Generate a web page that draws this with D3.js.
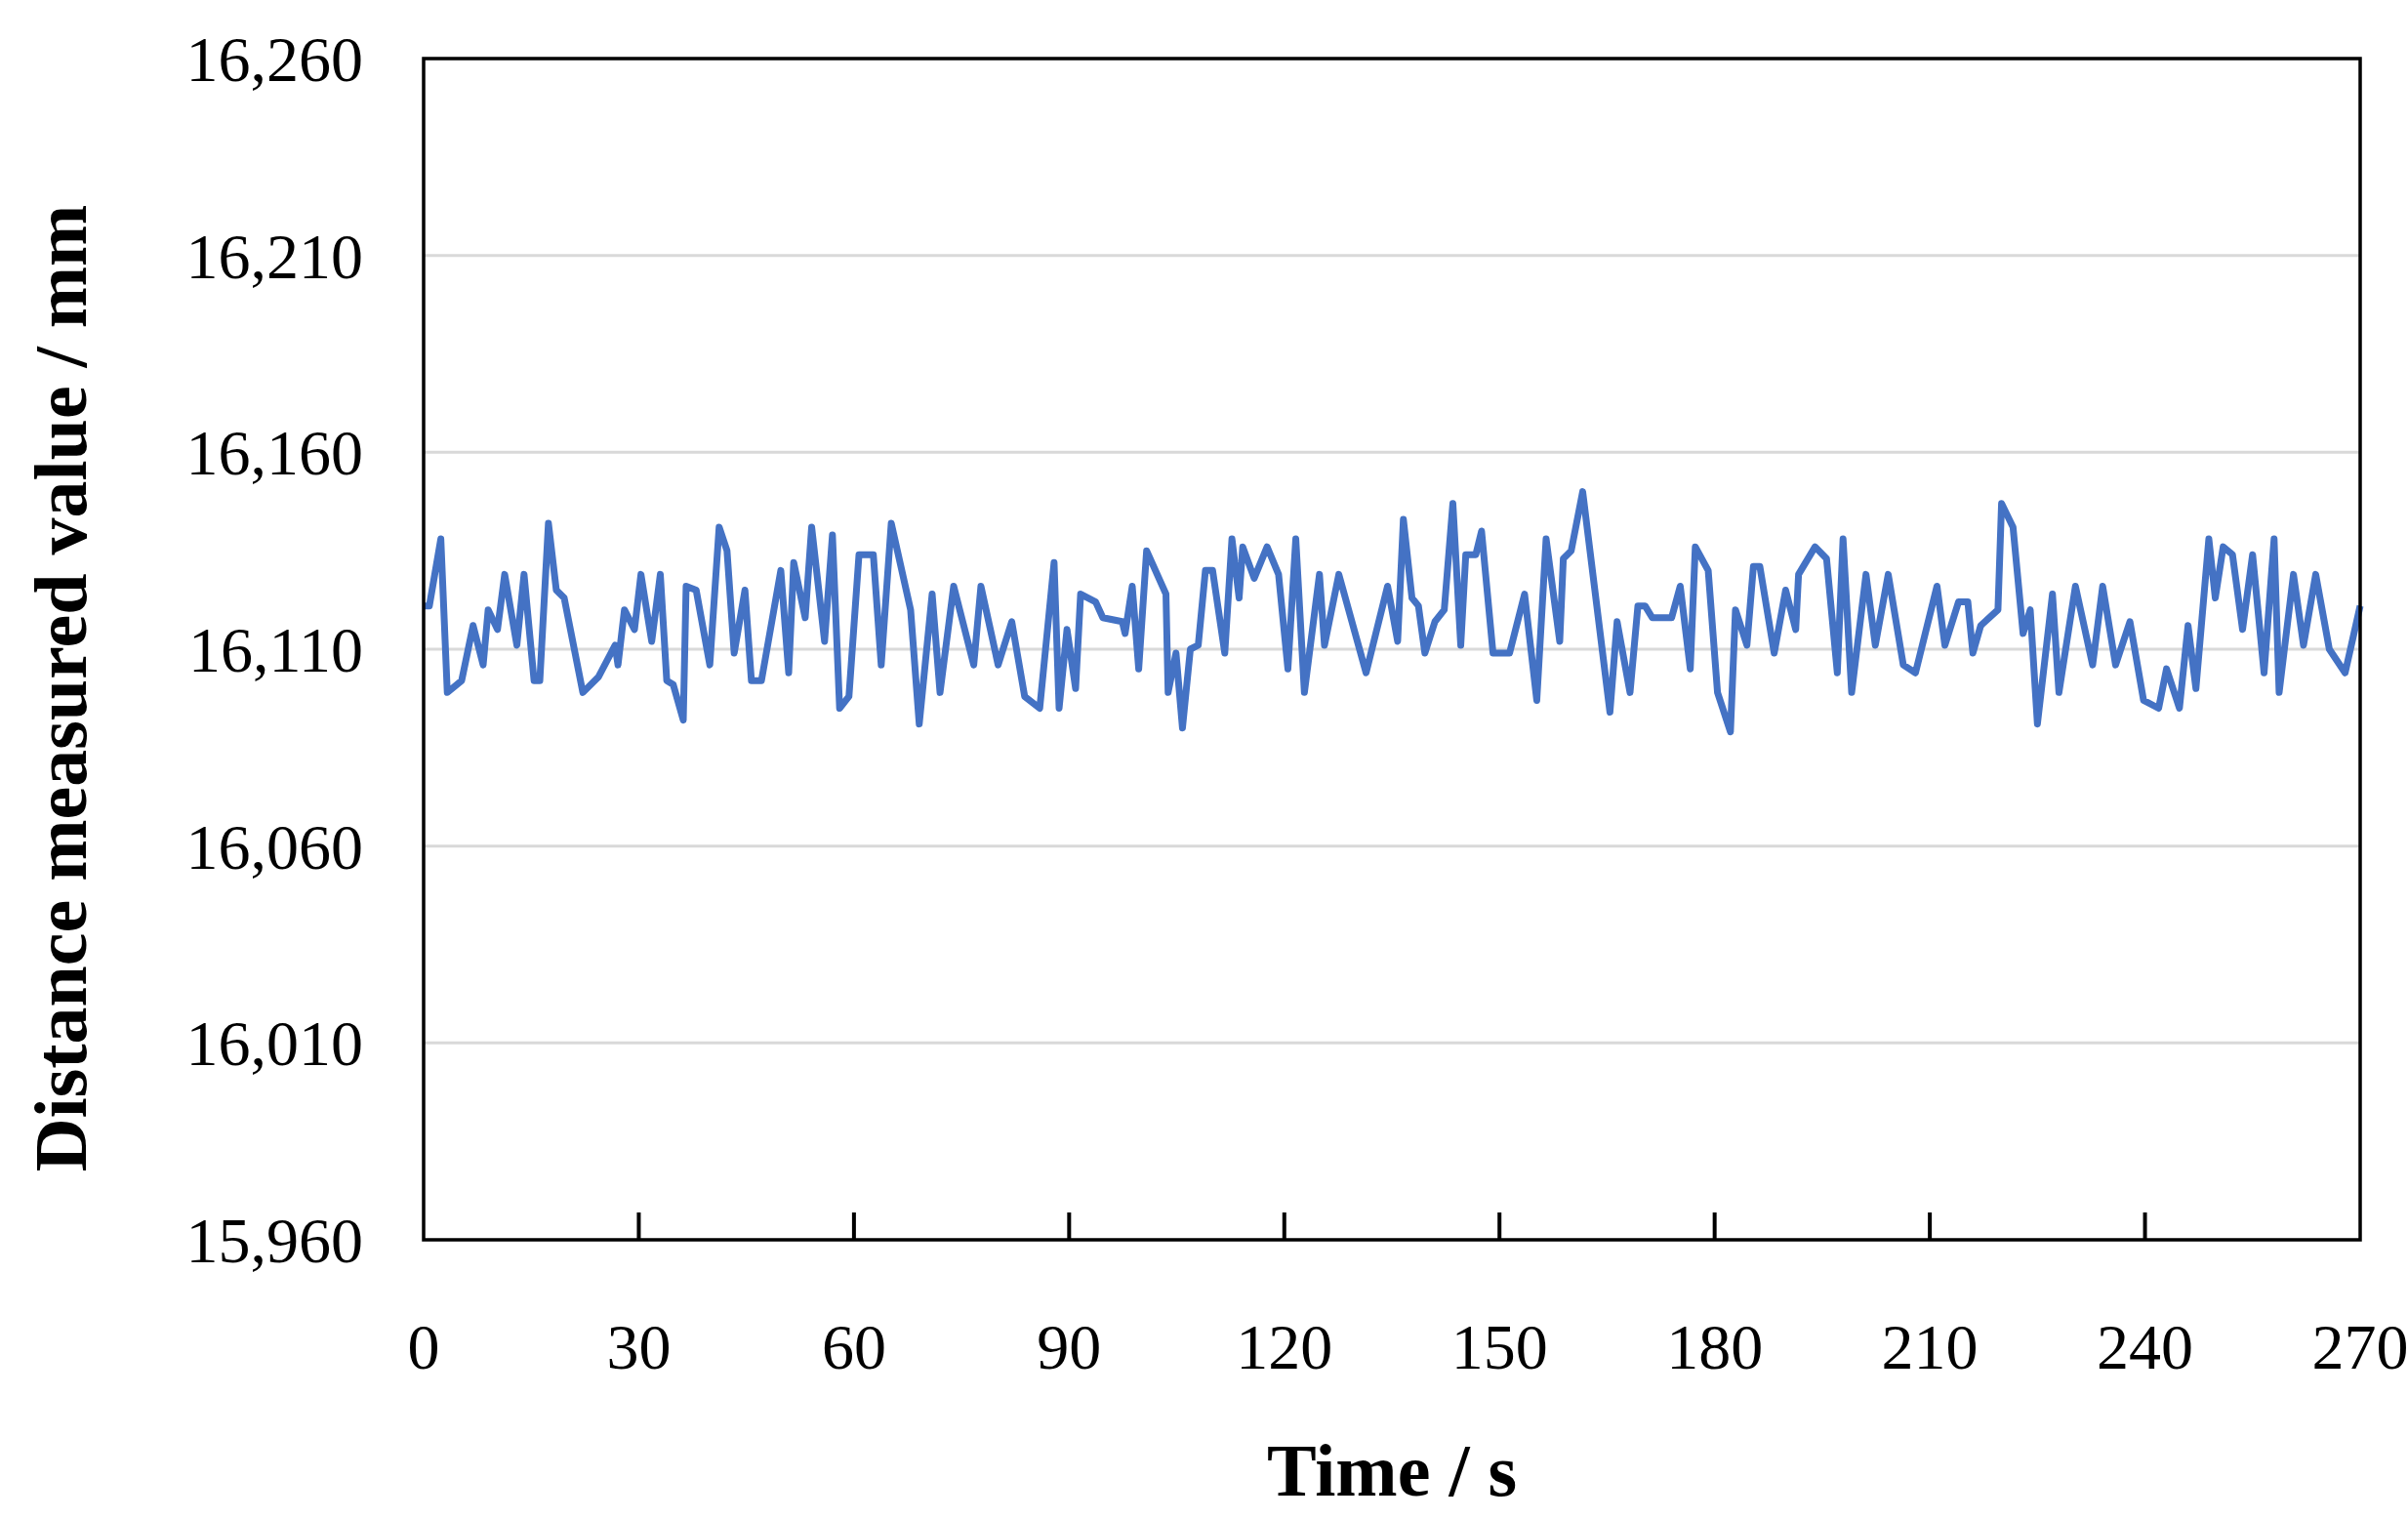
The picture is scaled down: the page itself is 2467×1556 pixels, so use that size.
<!DOCTYPE html>
<html><head><meta charset="utf-8">
<script src="https://cdn.jsdelivr.net/npm/d3@7"></script>
<style>body{margin:0;background:#fff}</style>
</head><body>
<svg id="chart" width="2467" height="1556"></svg>
<script>
// values (time in s, distance in mm)
const times = [0,0.8,2.4,3.3,5.3,6.9,8.3,9,10.3,11.3,13,14,15.4,16.2,17.4,18.5,19.6,22.2,24.4,26.7,27.1,28,29.4,30.3,31.8,33,33.9,34.8,36.2,36.6,38,39.9,41.2,42.3,43.3,44.8,45.7,47.1,49.8,50.9,51.6,53.2,54.1,55.9,57,58,59.3,60.7,62.7,63.8,65.2,67.9,69.1,
  70.9,72,73.9,76.7,77.7,80.1,82,83.8,85.9,87.9,88.6,89.7,90.9,91.6,93.7,94.7,97.4,97.8,98.8,99.7,100.8,103.5,103.8,104.9,105.8,106.9,108,109,110,111.7,112.7,113.7,114.2,115.8,117.6,119.2,120.5,121.6,122.8,124.9,125.6,127.6,131.4,134.4,135.8,136.6,
  137.8,138.7,139.6,141,142.3,143.5,144.6,145.3,146.7,147.5,149.1,151.4,153.5,155.2,156.5,158.4,158.9,160,161.6,165.4,166.4,168.2,169.3,170.3,171.3,174,175.2,176.6,177.3,179.1,180.4,182.2,182.9,184.5,185.4,186.3,188.3,189.9,191.3,191.7,194,195.6,197.1,197.9,199.1,201.1,202.4,204.2,206.3,
  208,211,212.1,214,215.3,216,217.1,219.5,220,221.6,223,224,225,227.1,228,230.3,232.7,234.1,235.9,237.9,239.8,241.9,243,244.8,246,247.1,248.9,249.8,250.9,252.2,253.6,255,256.6,258,258.7,260.7,262.1,263.8,265.7,267.9,270];
const distances = [16121,16121,16138,16099,16102,16116,16106,16120,16115,16129,16111,16129,16102,16102,16142,16125,16123,16099,16103,16111,16106,16120,16115,16129,16112,16129,16102,16101,16092,16126,16125,16106,16141,16135,16109,16125,16102,16102,16130,16104,16132,16118,16141,16112,16139,16095,16098,16134,16134,16106,16142,16120,16091,
  16124,16099,16126,16106,16126,16106,16117,16098,16095,16132,16095,16115,16100,16124,16122,16118,16117,16114,16126,16105,16135,16124,16099,16109,16090,16110,16111,16130,16130,16109,16138,16123,16136,16128,16136,16129,16105,16138,16099,16129,16111,16129,16104,16126,16112,16143,
  16123,16121,16109,16117,16120,16147,16111,16134,16134,16140,16109,16109,16124,16097,16138,16112,16133,16135,16150,16094,16117,16099,16121,16121,16118,16118,16126,16105,16136,16130,16099,16089,16120,16111,16131,16131,16109,16125,16115,16129,16136,16133,16104,16138,16099,16129,16111,16129,16106,
  16104,16126,16111,16122,16122,16109,16116,16120,16147,16141,16114,16120,16091,16124,16099,16126,16106,16126,16106,16117,16097,16095,16105,16095,16116,16100,16138,16123,16136,16134,16115,16134,16104,16138,16099,16129,16111,16129,16110,16104,16121];
const xTicks = [0,30,60,90,120,150,180,210,240,270];
const yTicks = [15960,16010,16060,16110,16160,16210,16260];

const svg = d3.select("#chart");
const plotLeft = 434, plotRight = 2418, plotTop = 60, plotBottom = 1270;
const x = d3.scaleLinear().domain([0, 270]).range([plotLeft, plotRight]);
const y = d3.scaleLinear().domain([15960, 16260]).range([plotBottom, plotTop]);
const font = "'Liberation Serif', 'Times New Roman', serif";

// gridlines
svg.append("g").selectAll("line").data(yTicks.slice(1, -1)).enter().append("line")
  .attr("x1", plotLeft).attr("x2", plotRight)
  .attr("y1", d => y(d)).attr("y2", d => y(d))
  .attr("stroke", "#d9d9d9").attr("stroke-width", 3);

// the series
const pts = times.map((t, i) => [t, distances[i]]);
svg.append("path").datum(pts)
  .attr("d", d3.line().x(d => x(d[0])).y(d => y(d[1])))
  .attr("fill", "none").attr("stroke", "#4472c4")
  .attr("stroke-width", 7).attr("stroke-linejoin", "round");

// frame
svg.append("rect").attr("x", plotLeft).attr("y", plotTop)
  .attr("width", plotRight - plotLeft).attr("height", plotBottom - plotTop)
  .attr("fill", "none").attr("stroke", "#000").attr("stroke-width", 3.5);

// x ticks (inside, pointing up)
svg.append("g").selectAll("line").data(xTicks.slice(1, -1)).enter().append("line")
  .attr("x1", d => x(d)).attr("x2", d => x(d))
  .attr("y1", plotBottom).attr("y2", plotBottom - 28)
  .attr("stroke", "#000").attr("stroke-width", 4);

svg.append("g").selectAll("text").data(xTicks).enter().append("text")
  .attr("x", d => x(d)).attr("y", 1402)
  .attr("text-anchor", "middle")
  .style("font-family", font).style("font-size", "66px")
  .text(d => d);

svg.append("g").selectAll("text").data(yTicks).enter().append("text")
  .attr("x", 372).attr("y", d => y(d)).attr("dy", "0.35em")
  .attr("text-anchor", "end")
  .style("font-family", font).style("font-size", "66px")
  .text(d => d3.format(",")(d));

svg.append("text")
  .attr("x", (plotLeft + plotRight) / 2).attr("y", 1532)
  .attr("text-anchor", "middle")
  .style("font-family", font).style("font-size", "76px").style("font-weight", "bold")
  .text("Time / s");

svg.append("text")
  .attr("transform", `translate(88,${(plotTop + plotBottom) / 2 + 40}) rotate(-90)`)
  .attr("text-anchor", "middle")
  .style("font-family", font).style("font-size", "76px").style("font-weight", "bold")
  .text("Distance measured value / mm");
</script>
</body></html>
